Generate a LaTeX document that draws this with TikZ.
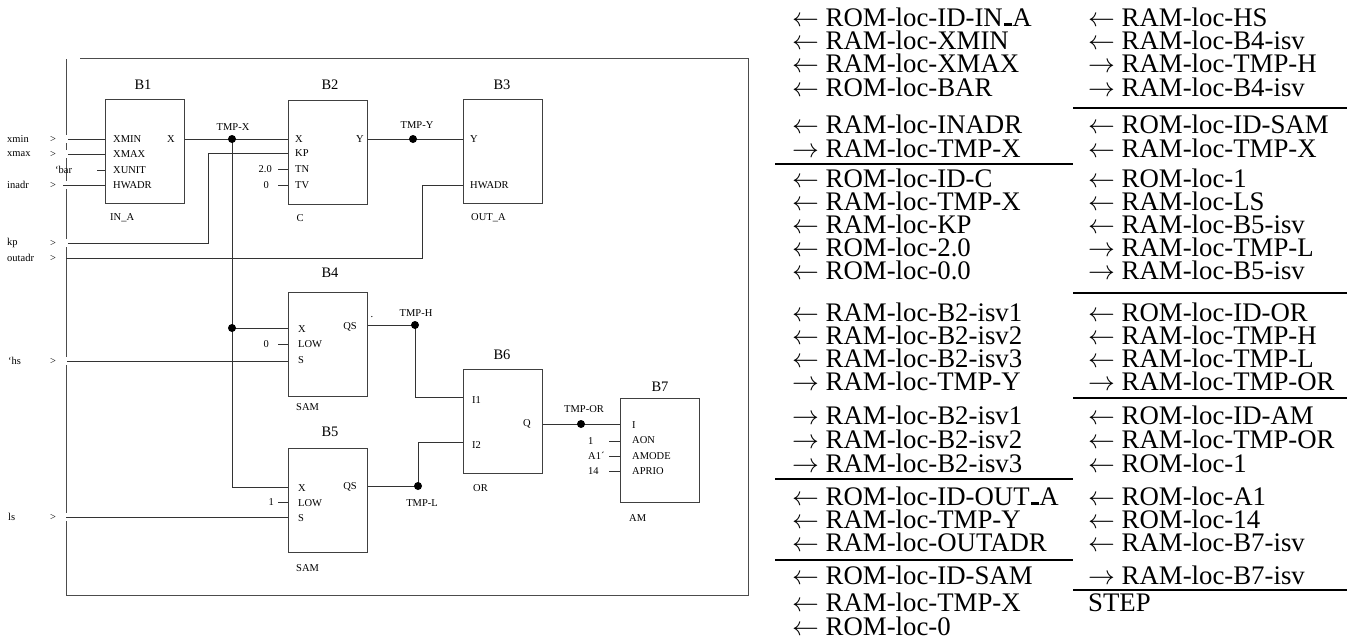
\documentclass[tikz,border=0pt]{standalone}
\usepackage{fix-cm}
\usepackage{fontspec}
\setmainfont{Liberation Serif}
\usetikzlibrary{calc}
\newcommand{\myL}{$\leftarrow$\ }
\newcommand{\myR}{$\rightarrow$\ }
\newcommand{\myus}{\leavevmode\kern.06em\vbox{\hrule width.3em height .1em}}
\begin{document}
\begin{tikzpicture}[x=1pt,y=-1pt,
  wire/.style={draw=black!80,line width=0.9pt},
  frm/.style={draw=black!70,line width=1pt},
  blk/.style={draw=black!75,line width=1pt,minimum width=79pt,minimum height=104pt,inner sep=0pt},
  pl/.style={font=\fontsize{10.5}{12}\selectfont,inner sep=0pt},
  ttl/.style={font=\fontsize{14.5}{16}\selectfont,inner sep=0pt},
  jn/.style={circle,fill=black,inner sep=0pt,minimum size=8pt},
  lst/.style={font=\fontsize{26.8}{28}\selectfont,anchor=base west,inner sep=0pt,text height=16pt,text depth=2pt},
  seprule/.style={line width=2.8pt}]
\useasboundingbox (0,0) rectangle (1351,640);

% ---------- frame ----------
\draw[frm] (80,58) -- (748,58) -- (748,595) -- (66,595) -- (66,521);
\draw[frm] (66,59) -- (66,135) (66,143) -- (66,150) (66,158) -- (66,181)
           (66,189) -- (66,239) (66,247) -- (66,357) (66,365) -- (66,513);

% ---------- blocks ----------
\node[blk] (B1) at (144.5,151) {};
\node[blk] (B2) at (328,152) {};
\node[blk] (B3) at (502.5,151) {};
\node[blk] (B4) at (328,344) {};
\node[blk] (B5) at (328,500) {};
\node[blk] (B6) at (502.5,421) {};
\node[blk] (B7) at (660,450) {};

% titles
\node[ttl] (tB1) at (143,85) {B1};
\node[ttl] (tB2) at (330,85) {B2};
\node[ttl] (tB3) at (502,85) {B3};
\node[ttl] (tB4) at (330,273) {B4};
\node[ttl] (tB5) at (330,432) {B5};
\node[ttl] (tB6) at (502,355) {B6};
\node[ttl] (tB7) at (660,387) {B7};

% type names
\node[pl,anchor=west] (yB1) at (110,218) {IN\_A};
\node[pl] (yB2) at (300,218) {C};
\node[pl,anchor=west] (yB3) at (471,218) {OUT\_A};
\node[pl,anchor=west] (yB4) at (296,407) {SAM};
\node[pl,anchor=west] (yB5) at (296,568) {SAM};
\node[pl,anchor=west] (yB6) at (473,488) {OR};
\node[pl,anchor=west] (yB7) at (629,518) {AM};

% ports B1
\node[pl,anchor=west] (p1a) at (113,139) {XMIN};
\node[pl,anchor=west] (p1b) at (113,154) {XMAX};
\node[pl,anchor=west] (p1c) at (113,170) {XUNIT};
\node[pl,anchor=west] (p1d) at (113,185) {HWADR};
\node[pl,anchor=east] (p1x) at (175,139) {X};
% ports B2
\node[pl,anchor=west] (p2a) at (295,139) {X};
\node[pl,anchor=west] (p2b) at (295,153) {KP};
\node[pl,anchor=west] (p2c) at (295,169) {TN};
\node[pl,anchor=west] (p2d) at (295,185) {TV};
\node[pl,anchor=east] (p2y) at (364,139) {Y};
% ports B3
\node[pl,anchor=west] (p3a) at (470,139) {Y};
\node[pl,anchor=west] (p3b) at (470,185) {HWADR};
% ports B4
\node[pl,anchor=west] (p4a) at (298,329) {X};
\node[pl,anchor=west] (p4b) at (298,344) {LOW};
\node[pl,anchor=west] (p4c) at (298,360) {S};
\node[pl,anchor=east] (p4q) at (357,327) {QS};
% ports B5
\node[pl,anchor=west] (p5a) at (298,488) {X};
\node[pl,anchor=west] (p5b) at (298,503) {LOW};
\node[pl,anchor=west] (p5c) at (298,518) {S};
\node[pl,anchor=east] (p5q) at (357,487) {QS};
% ports B6
\node[pl,anchor=west] (p6a) at (472,400) {I1};
\node[pl,anchor=west] (p6b) at (472,445) {I2};
\node[pl,anchor=east] (p6q) at (531,424) {Q};
% ports B7
\node[pl,anchor=west] (p7a) at (632,425) {I};
\node[pl,anchor=west] (p7b) at (632,440) {AON};
\node[pl,anchor=west] (p7c) at (632,456) {AMODE};
\node[pl,anchor=west] (p7d) at (632,471) {APRIO};

% ---------- inputs ----------
\node[pl,anchor=west] (Lxmin) at (7,139) {xmin};
\node[pl,anchor=west] (Lxmax) at (7,154) {xmax};
\node[pl,anchor=west] (Linadr) at (7,185) {inadr};
\node[pl,anchor=west] (Lkp) at (7,243) {kp};
\node[pl,anchor=west] (Lout) at (7,258) {outadr};
\node[pl,anchor=west] (Lhs) at (8,361) {`hs};
\node[pl,anchor=west] (Lls) at (8,517) {ls};
\node[pl,anchor=west] (Lbar) at (55,170) {`bar};
\foreach \y/\n in {139/a,154/b,185/c,243/d,258/e,361/f,517/g}
  \node[pl] (G\n) at (53,\y) {>};

\coordinate (Sxmin) at (68,139);
\coordinate (Sxmax) at (68,154);
\coordinate (Sbar) at (97,170);
\coordinate (Sinadr) at (63,185);
\coordinate (Skp) at (68,243);
\coordinate (Sout) at (66,258);
\coordinate (Shs) at (67,361);
\coordinate (Sls) at (66,517);

\draw[wire] (Sxmin) -- (B1.west |- Sxmin);
\draw[wire] (Sxmax) -- (B1.west |- Sxmax);
\draw[wire] (Sbar) -- (B1.west |- Sbar);
\draw[wire] (Sinadr) -- (B1.west |- Sinadr);

\coordinate (Kk) at (208,243);
\draw[wire] (Skp) -- (Kk) -- (Kk |- 0,153) -- (B2.west |- 0,153);
\coordinate (Ok) at (422,258);
\draw[wire] (Sout) -- (Ok) -- (Ok |- 0,185) -- (B3.west |- 0,185);
\draw[wire] (Shs) -- (B4.west |- Shs);
\draw[wire] (Sls) -- (B5.west |- Sls);

% constants
\node[pl,anchor=east] (c2a) at (272,169) {2.0};
\node[pl,anchor=east] (c2b) at (269,185) {0};
\node[pl,anchor=east] (c4) at (269,344) {0};
\node[pl,anchor=east] (c5) at (274,502) {1};
\node[pl,anchor=west] (c7a) at (588,441) {1};
\node[pl,anchor=west] (c7b) at (588,456) {A1´};
\node[pl,anchor=west] (c7c) at (588,471) {14};
\draw[wire] (B2.west |- c2a) -- ++(-10,0);
\draw[wire] (B2.west |- c2b) -- ++(-10,0);
\draw[wire] (B4.west |- c4) -- ++(-10,0);
\draw[wire] (B5.west |- c5) -- ++(-10,0);
\draw[wire] (B7.west |- c7a) -- ++(-11,0);
\draw[wire] (B7.west |- c7b) -- ++(-11,0);
\draw[wire] (B7.west |- c7c) -- ++(-11,0);

% ---------- signals ----------
\coordinate (TX) at (232,139);
\coordinate (TX4) at (232,328);
\coordinate (TX5) at (232,487);
\draw[wire] (B1.east |- TX) -- (B2.west |- TX);
\draw[wire] (TX) -- (TX5) -- (B5.west |- TX5);
\draw[wire] (TX4) -- (B4.west |- TX4);
\node[jn] (dTX) at (TX) {};
\node[jn] (dTX4) at (TX4) {};
\node[pl] (lTX) at (233,127) {TMP-X};

\coordinate (TY) at (413,139);
\draw[wire] (B2.east |- TY) -- (B3.west |- TY);
\node[jn] (dTY) at (TY) {};
\node[pl] (lTY) at (417,125) {TMP-Y};

\coordinate (TH) at (415,325);
\draw[wire] (B4.east |- TH) -- (TH) -- (TH |- 0,397) -- (B6.west |- 0,397);
\node[jn] (dTH) at (TH) {};
\node[pl] (lTH) at (416,313) {TMP-H};
\node[pl] (dotmark) at (372,317) {.};

\coordinate (TL) at (418,486);
\draw[wire] (B5.east |- TL) -- (TL) -- (TL |- 0,442) -- (B6.west |- 0,442);
\node[jn] (dTL) at (TL) {};
\node[pl] (lTL) at (422,503) {TMP-L};

\coordinate (TO) at (581,424);
\draw[wire] (B6.east |- TO) -- (B7.west |- TO);
\node[jn] (dTO) at (TO) {};
\node[pl] (lTO) at (584,409) {TMP-OR};

% ---------- right list ----------
\foreach \y/\t [count=\i] in {
  26/{\myL ROM-loc-ID-IN\myus A},
  49/{\myL RAM-loc-XMIN},
  72/{\myL RAM-loc-XMAX},
  96/{\myL ROM-loc-BAR},
  133/{\myL RAM-loc-INADR},
  157/{\myR RAM-loc-TMP-X},
  187/{\myL ROM-loc-ID-C},
  210/{\myL RAM-loc-TMP-X},
  233/{\myL RAM-loc-KP},
  256/{\myL ROM-loc-2.0},
  279/{\myL ROM-loc-0.0},
  321/{\myL RAM-loc-B2-isv1},
  344/{\myL RAM-loc-B2-isv2},
  367/{\myL RAM-loc-B2-isv3},
  390/{\myR RAM-loc-TMP-Y},
  424/{\myR RAM-loc-B2-isv1},
  448/{\myR RAM-loc-B2-isv2},
  472/{\myR RAM-loc-B2-isv3},
  505/{\myL ROM-loc-ID-OUT\myus A},
  528/{\myL RAM-loc-TMP-Y},
  551/{\myL RAM-loc-OUTADR},
  584/{\myL ROM-loc-ID-SAM},
  611/{\myL RAM-loc-TMP-X},
  635/{\myL ROM-loc-0}}
  \node[lst] (a\i) at (792,\y) {\t};

\foreach \y/\t [count=\i] in {
  26/{\myL RAM-loc-HS},
  49/{\myL RAM-loc-B4-isv},
  72/{\myR RAM-loc-TMP-H},
  96/{\myR RAM-loc-B4-isv},
  133/{\myL ROM-loc-ID-SAM},
  157/{\myL RAM-loc-TMP-X},
  187/{\myL ROM-loc-1},
  210/{\myL RAM-loc-LS},
  233/{\myL RAM-loc-B5-isv},
  256/{\myR RAM-loc-TMP-L},
  279/{\myR RAM-loc-B5-isv},
  321/{\myL ROM-loc-ID-OR},
  344/{\myL RAM-loc-TMP-H},
  367/{\myL RAM-loc-TMP-L},
  390/{\myR RAM-loc-TMP-OR},
  424/{\myL ROM-loc-ID-AM},
  448/{\myL RAM-loc-TMP-OR},
  472/{\myL ROM-loc-1},
  505/{\myL ROM-loc-A1},
  528/{\myL ROM-loc-14},
  551/{\myL RAM-loc-B7-isv},
  584/{\myR RAM-loc-B7-isv},
  611/{STEP}}
  \node[lst] (b\i) at (1088,\y) {\t};

\draw[seprule] (775,164) -- (1073,164);
\draw[seprule] (775,479) -- (1073,479);
\draw[seprule] (775,560) -- (1073,560);
\draw[seprule] (1073,108) -- (1347,108);
\draw[seprule] (1073,293) -- (1347,293);
\draw[seprule] (1073,398) -- (1347,398);
\draw[seprule] (1073,590) -- (1347,590);
\end{tikzpicture}
\end{document}
